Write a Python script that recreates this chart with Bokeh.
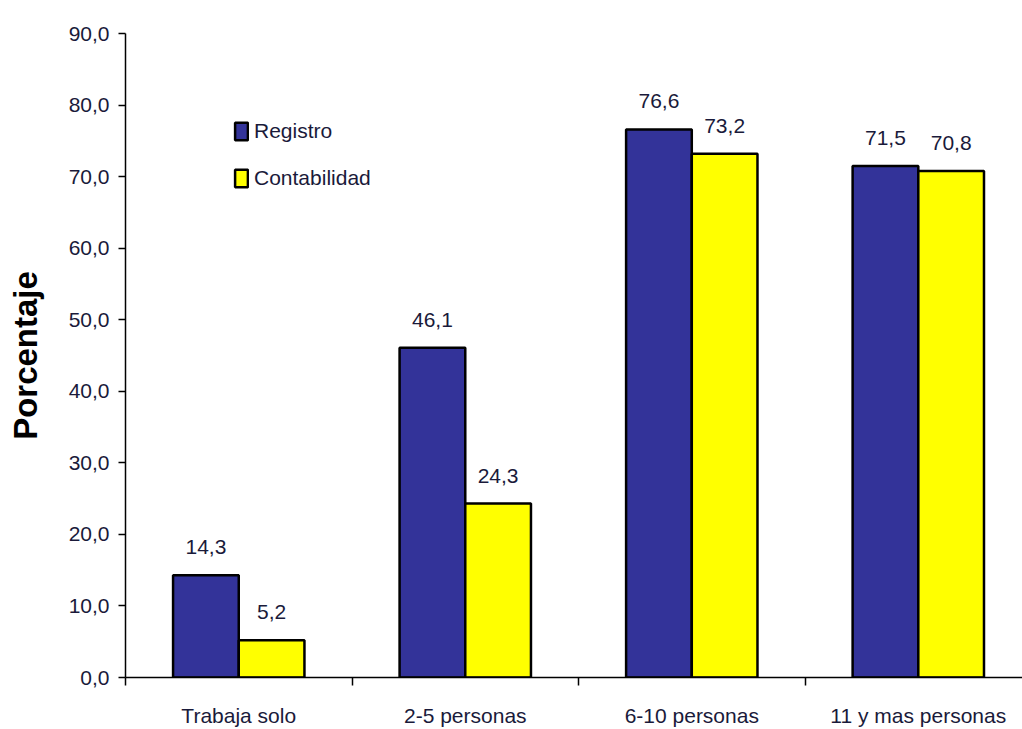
from bokeh.plotting import figure
from bokeh.models import (ColumnDataSource, Range1d, FixedTicker, Legend, LegendItem,
                          LabelSet)
from bokeh.core.properties import value
from bokeh.embed import file_html
from bokeh.resources import INLINE

categories = ["Trabaja solo", "2-5 personas", "6-10 personas", "11 y mas personas"]
registro = [14.3, 46.1, 76.6, 71.5]
contabilidad = [5.2, 24.3, 73.2, 70.8]
y_ticks = [0, 10, 20, 30, 40, 50, 60, 70, 80, 90]
y_tick_labels = ["0,0", "10,0", "20,0", "30,0", "40,0", "50,0", "60,0", "70,0", "80,0", "90,0"]
series_names = ["Registro", "Contabilidad"]
y_title = "Porcentaje"

BLUE = "#333399"
YELLOW = "#FFFF00"
TXT = "#1a1a3a"
FONT = "Liberation Sans"
FS = "21px"

bar_w = 0.29
offset = 0.145

def fmt(v):
    return f"{v:.1f}".replace(".", ",")

idx = list(range(len(categories)))
src_r = ColumnDataSource(dict(x=[i + 0.5 - offset for i in idx], top=registro,
                              lab=[fmt(v) for v in registro]))
src_c = ColumnDataSource(dict(x=[i + 0.5 + offset for i in idx], top=contabilidad,
                              lab=[fmt(v) for v in contabilidad]))

p = figure(width=1022, height=729, output_backend="svg", toolbar_location=None,
           x_range=Range1d(0, 3.96), y_range=Range1d(0, 90),
           min_border_left=125, min_border_right=0, min_border_top=33, min_border_bottom=52)
p.outline_line_color = None
p.xgrid.grid_line_color = None
p.ygrid.grid_line_color = None

r1 = p.vbar(x="x", top="top", width=bar_w, source=src_r, fill_color=BLUE,
            line_color="black", line_width=2.5)
r2 = p.vbar(x="x", top="top", width=bar_w, source=src_c, fill_color=YELLOW,
            line_color="black", line_width=2.5)

for s in (src_r, src_c):
    p.add_layout(LabelSet(x="x", y="top", text="lab", source=s, text_align="center",
                          text_baseline="alphabetic", y_offset=21,
                          text_font=value(FONT), text_font_size=value(FS),
                          text_color=TXT))

# y axis
p.yaxis.ticker = FixedTicker(ticks=y_ticks, minor_ticks=[])
p.yaxis.major_label_overrides = {t: l for t, l in zip(y_ticks, y_tick_labels)}
p.yaxis.major_tick_out = 7
p.yaxis.major_tick_in = 0
p.yaxis.major_label_standoff = 9
p.yaxis.axis_line_width = 1.5
p.yaxis.major_tick_line_width = 1.5
p.yaxis.major_label_text_font = FONT
p.yaxis.major_label_text_font_size = FS
p.yaxis.major_label_text_color = TXT
p.yaxis.axis_label = y_title
p.yaxis.axis_label_text_font = FONT
p.yaxis.axis_label_text_font_style = "bold"
p.yaxis.axis_label_text_font_size = "33px"
p.yaxis.axis_label_text_color = "black"
p.yaxis.axis_label_standoff = 22

# x axis
p.xaxis.ticker = FixedTicker(ticks=[i + 0.5 for i in idx],
                             minor_ticks=[float(i) for i in idx] + [float(len(idx))])
p.xaxis.major_label_overrides = {i + 0.5: c for i, c in zip(idx, categories)}
p.xaxis.major_tick_line_color = None
p.xaxis.major_tick_out = 8
p.xaxis.major_tick_in = 0
p.xaxis.minor_tick_out = 8
p.xaxis.minor_tick_in = 0
p.xaxis.minor_tick_line_width = 1.5
p.xaxis.axis_line_width = 1.5
p.xaxis.major_label_standoff = 18
p.xaxis.major_label_text_font = FONT
p.xaxis.major_label_text_font_size = FS
p.xaxis.major_label_text_color = TXT

legend = Legend(items=[LegendItem(label=series_names[0], renderers=[r1]),
                       LegendItem(label=series_names[1], renderers=[r2])],
                location=(108, 487), orientation="vertical",
                glyph_width=16, glyph_height=22, spacing=23, padding=0, margin=0,
                label_standoff=5, label_text_font=FONT, label_text_font_size=FS,
                label_text_color=TXT, border_line_color=None, background_fill_alpha=0)
p.add_layout(legend, "center")

open("out.html", "w").write(file_html(p, INLINE))
